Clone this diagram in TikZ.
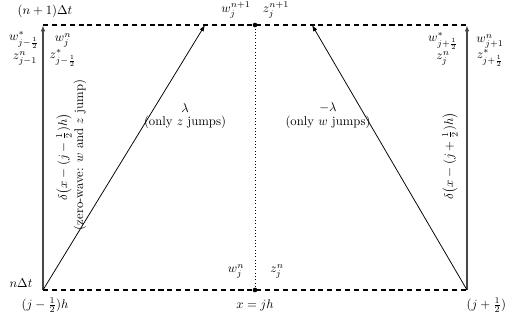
\documentclass[tikz,border=0pt]{standalone}
\usepackage{amsmath}
\usepackage{amsfonts}
\usetikzlibrary{positioning,arrows.meta}

\begin{document}
\begin{tikzpicture}[x=0.0277cm,y=-0.0277cm,>={Latex[length=5pt,width=3.5pt]},
  every node/.style={inner sep=0pt}]
\useasboundingbox (0,0) rectangle (506,320);
\tikzset{grid line/.style={dashed,dash pattern=on 4pt off 3pt,thick},
  front/.style={->,thick,gray!55!black,line width=1.2pt},
  wave/.style={->,semithick}}

% corners of the cell
\coordinate (bl) at (43,290);
\coordinate (tl) at (43,25);
\coordinate (br) at (467,290);
\coordinate (tr) at (467,25);
\coordinate (bm) at (255,290);
\coordinate (tm) at (255,25);
\coordinate (lt) at (205,25);
\coordinate (rt) at (312,25);

\draw[grid line] (bl) -- (br) (tl) -- (tr);
\draw[dotted,semithick] (bm) -- (tm);
\fill (bm) circle (1.8pt) (tm) circle (1.8pt);
\draw[front] (bl) -- (tl);
\draw[front] (br) -- (tr);
\draw[wave] (bl) -- (lt);
\draw[wave] (br) -- (rt);

% axis labels
\draw node (t1) at (45,11) {$(n+1)\Delta t$};
\draw node (t0) at (21,283) {$n\Delta t$};
\draw node (xl) at (45,305) {$(j-\frac12)h$};
\draw node (xm) at (255,305) {$x=jh$};
\draw node (xr) at (490,305) {$(j+\frac12)h$};

% states at the middle
\draw node (wb) at (236,271) {$w_j^n$};
\draw node (zb) at (277,271) {$z_j^n$};
\draw node (wt) at (236,10) {$w_j^{n+1}$};
\draw node (zt) at (276,10) {$z_j^{n+1}$};

% states beside the fronts
\draw node (wl1) at (24,40) {$w^*_{j-\frac12}$};
\draw node (zl1) at (25,58) {$z^n_{j-1}$};
\draw node (wl2) at (63,40) {$w^n_j$};
\draw node (zl2) at (63,58) {$z^*_{j-\frac12}$};
\draw node (wr1) at (443,41) {$w^*_{j+\frac12}$};
\draw node (zr1) at (443,58) {$z^n_j$};
\draw node (wr2) at (490,41) {$w^n_{j+1}$};
\draw node (zr2) at (490,58) {$z^*_{j+\frac12}$};

% speeds
\draw node (sl) at (185,108) {$\lambda$};
\draw node (sl2) at (185,122) {(only $z$ jumps)};
\draw node (sr) at (328,108) {$-\lambda$};
\draw node (sr2) at (328,122) {(only $w$ jumps)};

% zero waves
\draw node (dl) at (64,157) [rotate=90]{$\delta\bigl(x-(j-\frac12)h\bigr)$};
\draw node (dl2) at (80,155) [rotate=90]{(zero-wave: $w$ and $z$ jump)};
\draw node (dr) at (450,156) [rotate=90]{$\delta\bigl(x-(j+\frac12)h\bigr)$};
\end{tikzpicture}
\end{document}
